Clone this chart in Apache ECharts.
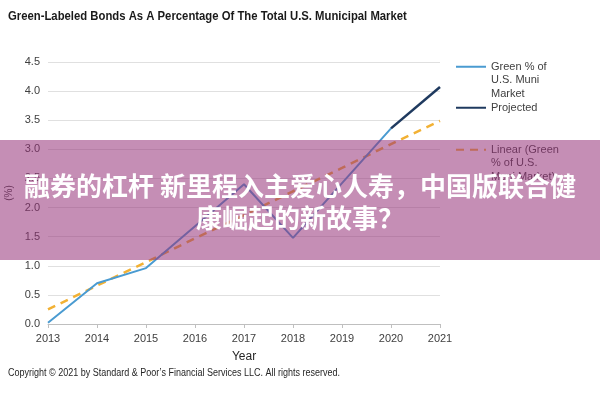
<!DOCTYPE html>
<html><head><meta charset="utf-8">
<script src="https://cdn.jsdelivr.net/npm/echarts@6/dist/echarts.min.js"></script>
<style>html,body{margin:0;padding:0;background:#fff}#c{width:600px;height:400px}</style>
</head><body><div id="c"></div>
<script>
var years = ['2013','2014','2015','2016','2017','2018','2019','2020','2021'];
var greenShare = [0.02, 0.70, 0.96, 1.68, 2.40, 1.48, 2.42, 3.36, null];
var projected = [null, null, null, null, null, null, null, 3.36, 4.07];
var linearTrend = [0.25, 0.66, 1.06, 1.47, 1.87, 2.28, 2.68, 3.09, 3.49];
var yTicks = [0, 0.5, 1, 1.5, 2, 2.5, 3, 3.5, 4, 4.5];
var titleText = 'Green-Labeled Bonds As A Percentage Of The Total U.S. Municipal Market';
var copyrightText = 'Copyright \u00a9 2021 by Standard & Poor\u2019s Financial Services LLC. All rights reserved.';
var overlayLine1 = '融券的杠杆 新里程入主爱心人寿，中国版联合健';
var overlayLine2 = '康崛起的新故事？';
var nameGreen = 'Green % of U.S. Muni Market';
var nameProj = 'Projected';
var nameLinear = 'Linear (Green % of U.S. Muni Market)';

var FONT = '"Liberation Sans", Arial, sans-serif';
var chart = echarts.init(document.getElementById('c'));
function legendBox(name, top, fmt) {
  return {
    data: [name], orient: 'vertical', left: 455, top: top,
    itemWidth: 30, itemHeight: 14, padding: 0,
    itemStyle: { opacity: 0 },
    formatter: function(){ return fmt; },
    textStyle: { fontFamily: FONT, fontSize: 11, color: '#404040', lineHeight: 13.5 }
  };
}
chart.setOption({
  animation: false,
  title: { show: false, text: titleText },
  grid: { left: 48, right: 160, top: 62, bottom: 76, outerBoundsMode: 'none', containLabel: false },
  legend: [
    legendBox(nameGreen, 33, '\n\nGreen % of\nU.S. Muni\nMarket'),
    legendBox(nameProj, 101, 'Projected'),
    legendBox(nameLinear, 116, '\n\nLinear (Green\n% of U.S.\nMuni Market)')
  ],
  xAxis: {
    type: 'category', data: years, boundaryGap: false,
    name: 'Year', nameLocation: 'middle', nameGap: 27,
    nameTextStyle: { fontFamily: FONT, fontSize: 12, color: '#262626' },
    axisLine: { lineStyle: { color: '#bfbfbf', width: 1 } },
    axisTick: { show: true, length: 4, lineStyle: { color: '#bfbfbf' } },
    axisLabel: { fontFamily: FONT, fontSize: 11, color: '#404040', margin: 9 },
    splitLine: { show: false }
  },
  yAxis: {
    type: 'value', min: yTicks[0], max: yTicks[yTicks.length-1], interval: 0.5,
    name: '(%)', nameLocation: 'middle', nameGap: 32, nameRotate: 90,
    nameTextStyle: { fontFamily: FONT, fontSize: 10, color: '#404040' },
    axisLine: { show: false }, axisTick: { show: false },
    axisLabel: { fontFamily: FONT, fontSize: 11, color: '#404040', margin: 8,
      formatter: function(v){ return v.toFixed(1); } },
    splitLine: { lineStyle: { color: '#e0e0e0', width: 1 } }
  },
  series: [
    { name: nameLinear, type: 'line', data: linearTrend, symbol: 'none', z: 2,
      lineStyle: { color: '#f2b134', width: 2.5, type: [8, 6] }, itemStyle: { color: '#e8956a' } },
    { name: nameGreen, type: 'line', data: greenShare, symbol: 'none', z: 3,
      lineStyle: { color: '#4a9bd1', width: 2 }, itemStyle: { color: '#4a9bd1' } },
    { name: nameProj, type: 'line', data: projected, symbol: 'none', z: 4,
      lineStyle: { color: '#1f3a5f', width: 2.5 }, itemStyle: { color: '#1f3a5f' } }
  ],
  graphic: [
    { type: 'text', x: 8, y: 10, z: 10, scaleX: 0.87,
      style: { text: titleText, font: 'bold 13px ' + FONT, fill: '#1a1a1a' } },
    { type: 'text', x: 8, y: 368, z: 10, scaleX: 0.9,
      style: { text: copyrightText, font: '10px ' + FONT, fill: '#262626' } },
    { type: 'rect', left: 0, top: 140, z: 100,
      shape: { width: 600, height: 120 },
      style: { fill: 'rgba(150,50,120,0.55)' } },
    { type: 'text', left: 'center', top: 173, z: 101,
      style: { text: overlayLine1, font: 'bold 26px "Noto Sans CJK SC", sans-serif', fill: '#ffffff' } },
    { type: 'text', left: 'center', top: 205, z: 101,
      style: { text: overlayLine2, font: 'bold 26px "Noto Sans CJK SC", sans-serif', fill: '#ffffff' } }
  ]
});
</script></body></html>
